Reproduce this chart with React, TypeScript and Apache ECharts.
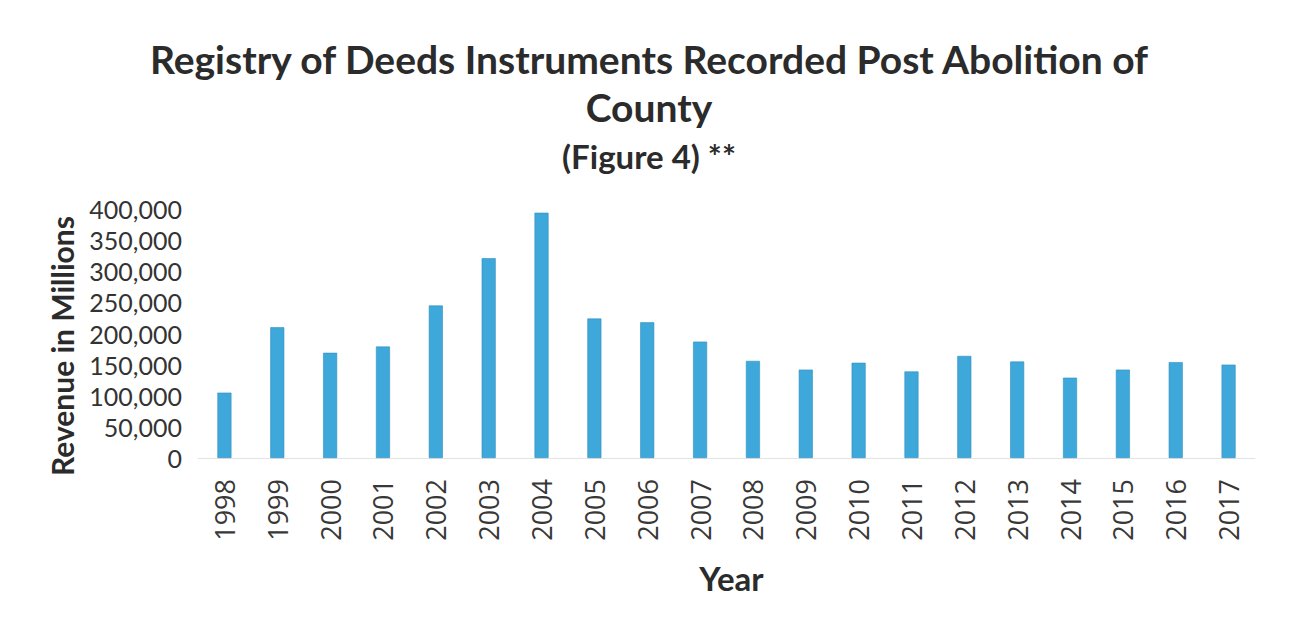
import React, { useEffect, useRef } from "react";
import * as echarts from "echarts";

// Instruments recorded by year
const years = [
  "1998", "1999", "2000", "2001", "2002", "2003", "2004", "2005", "2006", "2007",
  "2008", "2009", "2010", "2011", "2012", "2013", "2014", "2015", "2016", "2017",
];
const instruments = [
  105000, 210000, 169000, 179000, 245000, 321000, 394000, 224000, 218000, 187000,
  156000, 142000, 153000, 139000, 164000, 155000, 129000, 142000, 154000, 150000,
];
const yTicks = { min: 0, max: 400000, interval: 50000 };

const titleLines = [
  "Registry of Deeds Instruments Recorded Post Abolition of",
  "County",
];
const subtitle = "(Figure 4) **";
const yAxisTitle = "Revenue in Millions";

export default function App() {
  const ref = useRef<HTMLDivElement>(null);

  useEffect(() => {
    if (!ref.current) return;
    const chart = echarts.init(ref.current, null, { renderer: "svg" });
    const titleStyle = {
      fontFamily: "Lato",
      fontWeight: "bold" as const,
      fontSize: 39,
      color: "#2b2b2b",
    };
    chart.setOption({
      animation: false,
      backgroundColor: "#ffffff",
      title: [
        { text: titleLines[0], left: "center", top: 34, textStyle: titleStyle },
        { text: titleLines[1], left: "center", top: 82, textStyle: titleStyle },
        {
          text: subtitle,
          left: "center",
          top: 134,
          textStyle: { ...titleStyle, fontSize: 33 },
        },
      ],
      graphic: [
        {
          type: "text",
          x: 62,
          y: 346,
          rotation: Math.PI / 2,
          style: {
            text: yAxisTitle,
            fontFamily: "Lato",
            fontWeight: "bold",
            fontSize: 30,
            fill: "#2b2b2b",
            align: "center",
            verticalAlign: "middle",
          },
        },
      ],
      grid: { left: 198, right: 43, top: 209, bottom: 176, containLabel: false },
      xAxis: {
        type: "category",
        data: years,
        name: "Year",
        nameLocation: "middle",
        nameGap: 103,
        nameTextStyle: {
          fontFamily: "Lato",
          fontWeight: "bold",
          fontSize: 33,
          color: "#2b2b2b",
          padding: [0, 0, 0, 10],
        },
        axisLine: { show: true, lineStyle: { color: "#e3e3e3", width: 1 } },
        axisTick: { show: false },
        axisLabel: {
          rotate: 90,
          margin: 21,
          fontFamily: "Open Sans",
          fontSize: 27,
          color: "#383838",
          interval: 0,
        },
      },
      yAxis: {
        type: "value",
        min: yTicks.min,
        max: yTicks.max,
        interval: yTicks.interval,
        splitLine: { show: false },
        axisLine: { show: false },
        axisTick: { show: false },
        axisLabel: {
          margin: 16,
          fontFamily: "Lato",
          fontSize: 25,
          color: "#333333",
          formatter: (v: number) => v.toLocaleString("en-US"),
        },
      },
      series: [
        {
          type: "bar",
          data: instruments,
          barWidth: 14,
          itemStyle: { color: "#3EA8DA", borderColor: "#2f8fbf", borderWidth: 0.6 },
        },
      ],
    });
    return () => chart.dispose();
  }, []);

  return (
    <div
      ref={ref}
      style={{ position: "fixed", left: 0, top: 0, width: 1298, height: 634 }}
    />
  );
}
